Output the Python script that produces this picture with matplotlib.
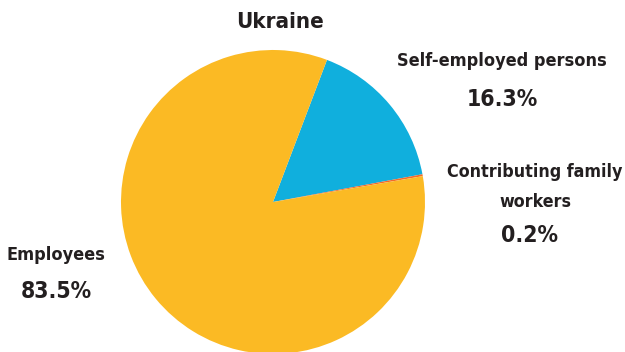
import matplotlib
matplotlib.use('Agg')
import matplotlib.pyplot as plt

# data
labels = ['Self-employed persons', 'Contributing family\nworkers', 'Employees']
shares = [16.3, 0.2, 83.5]
colors = ['#10AFDD', '#F26B2A', '#FBBA24']

W, H = 625, 352
fig = plt.figure(figsize=(W / 100, H / 100), dpi=100)
ax = fig.add_axes([0, 0, 1, 1])

ax.pie(shares, colors=colors, startangle=69.2, counterclock=False,
       center=(273, H - 202), radius=152, frame=True,
       wedgeprops={'linewidth': 0})
ax.set_xlim(0, W)
ax.set_ylim(0, H)
ax.set_aspect('equal')
ax.axis('off')

font = dict(family='DejaVu Sans', stretch='condensed', weight='bold',
            color='#231F20', ha='center', va='center')

def txt(x, y, s, size=13, ls=1.2):
    ax.text(x, H - y, s, fontsize=size, linespacing=ls, **font)

txt(280, 22, 'Ukraine', 16)
txt(502, 61, labels[0])
txt(502, 99, '%.1f%%' % shares[0], 16.5)
txt(535, 187, labels[1], 12.8, 1.85)
txt(530, 235, '%.1f%%' % shares[1], 16.5)
txt(56, 255, labels[2])
txt(56, 292, '%.1f%%' % shares[2], 16.5)

fig.savefig('out.png', dpi=100)
